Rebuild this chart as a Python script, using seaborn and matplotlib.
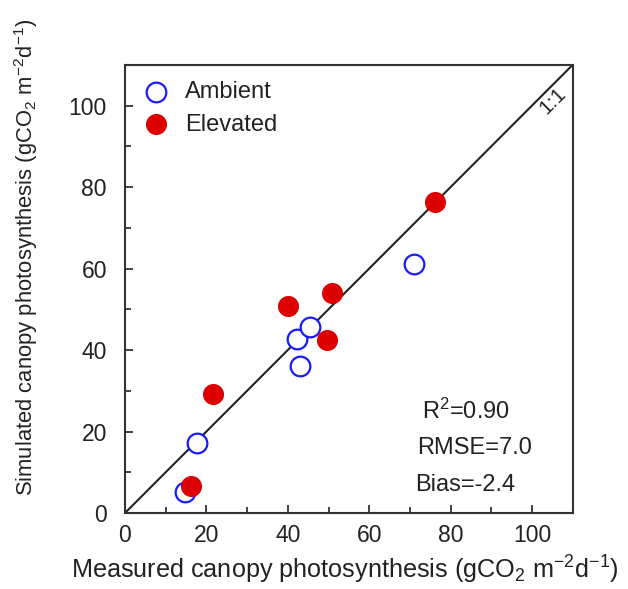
import matplotlib
matplotlib.use("Agg")
import matplotlib.pyplot as plt
import seaborn as sns
import pandas as pd
from matplotlib.ticker import MultipleLocator

amb_x = [14.7, 17.6, 42.3, 45.5, 43.1, 71.1]
amb_y = [5.2, 17.1, 42.8, 45.7, 36.0, 61.2]
ele_x = [16.3, 21.6, 40.0, 50.9, 49.6, 76.2]
ele_y = [6.6, 29.1, 50.7, 54.0, 42.4, 76.3]
ticks = [0, 20, 40, 60, 80, 100]
stats = ["R$^2$=0.90", "RMSE=7.0", "Bias=-2.4"]

sns.set_style("ticks")
plt.rcParams['font.family'] = ['Liberation Sans', 'DejaVu Sans']
plt.rcParams['mathtext.fontset'] = 'custom'
plt.rcParams['mathtext.rm'] = 'Liberation Sans'
plt.rcParams['mathtext.it'] = 'Liberation Sans'

df = pd.concat([
    pd.DataFrame({"x": amb_x, "y": amb_y, "g": "Ambient"}),
    pd.DataFrame({"x": ele_x, "y": ele_y, "g": "Elevated"}),
])

fig = plt.figure(figsize=(6.28, 5.89), dpi=100)
ax = fig.add_axes([0.199, 0.129, 0.713, 0.761])

ax.plot([0, 110], [0, 110], color="#222222", lw=1.5, zorder=1)

a = df[df.g == "Ambient"]
e = df[df.g == "Elevated"]
sns.scatterplot(data=a, x="x", y="y", ax=ax, s=200, marker="o",
                facecolor="white", edgecolor="#1a1aff", linewidth=1.6,
                label="Ambient", zorder=3)
sns.scatterplot(data=e, x="x", y="y", ax=ax, s=200, marker="o",
                color="#dd0000", edgecolor="#dd0000", linewidth=1,
                label="Elevated", zorder=3)

ax.set_xlim(0, 110)
ax.set_ylim(0, 110)
ax.set_xticks(ticks)
ax.set_yticks(ticks)
ax.xaxis.set_minor_locator(MultipleLocator(10))
ax.yaxis.set_minor_locator(MultipleLocator(10))
ax.tick_params(which="both", direction="in", width=1.2, colors="#222222")
ax.tick_params(which="major", length=6, labelsize=16.5)
ax.tick_params(which="minor", length=4)
ax.tick_params(axis="x", which="major", pad=8)
ax.tick_params(axis="y", which="major", pad=13)
for sp in ax.spines.values():
    sp.set_linewidth(1.5)
    sp.set_color("#333333")

ax.set_xlabel("Measured canopy photosynthesis (gCO$_2$ m$^{-2}$d$^{-1}$)", fontsize=18.2, color="#222222")
ax.set_ylabel("Simulated canopy photosynthesis (gCO$_2$ m$^{-2}$d$^{-1}$)", fontsize=15.8, color="#222222")
ax.xaxis.set_label_coords(0.49, -0.09)
ax.yaxis.set_label_coords(-0.19, 0.57)

leg = ax.legend(loc="upper left", frameon=False, fontsize=17, handletextpad=0.25,
                borderaxespad=0.0, labelspacing=0.45, markerscale=1.0,
                bbox_to_anchor=(-0.005, 0.985))
for t in leg.get_texts():
    t.set_color("#222222")

ax.text(105.2, 101.2, "1:1", rotation=45, fontsize=15, ha="center", va="center", color="#222222")

x_off = [73.0, 71.8, 71.3]
for i, s in enumerate(stats):
    ax.text(x_off[i], 25.0 - i * 9.05, s, fontsize=17, ha="left", va="center", color="#222222")

fig.savefig("out.png", dpi=100)
